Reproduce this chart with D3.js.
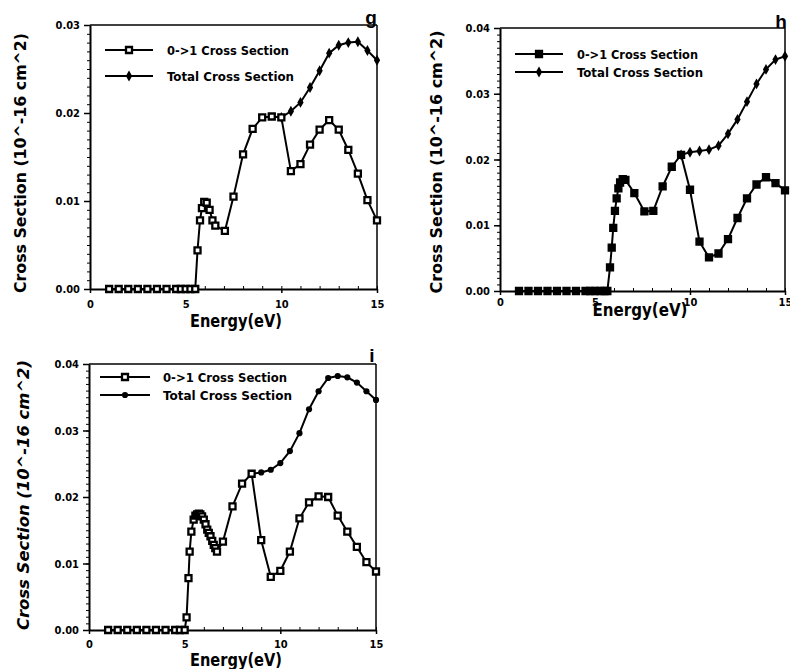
<!DOCTYPE html>
<html>
<head>
  <meta charset="utf-8">
  <title>Cross sections g, h, i</title>
  <script src="https://d3js.org/d3.v7.min.js"></script>
  <style>
    body { margin: 0; background: #fff; }
    svg text { font-family: "Liberation Sans Narrow", "DejaVu Sans Condensed", "Liberation Sans", sans-serif; font-weight: bold; fill: #000; }
  </style>
</head>
<body>
  <svg id="chart" width="790" height="669"></svg>

  <script>
    // Panel g
    const energy01G = [1, 1.5, 2, 2.5, 3, 3.5, 4, 4.5, 4.75, 5, 5.25, 5.5, 5.62, 5.75, 5.85, 5.97, 6.1, 6.25, 6.4, 6.55, 7.05, 7.5, 8, 8.5, 9, 9.5, 10, 10.5, 11, 11.5, 12, 12.5, 13, 13.5, 14, 14.5, 15];
    const sigma01G  = [0, 0, 0, 0, 0, 0, 0, 0, 0, 0, 0, 0, 0.0044, 0.0078, 0.0092, 0.0099, 0.0098, 0.0090, 0.0078, 0.0072, 0.0066, 0.0105, 0.0153, 0.0182, 0.0195, 0.0196, 0.0195, 0.0134, 0.0142, 0.0164, 0.0181, 0.0192, 0.0181, 0.0158, 0.0131, 0.0101, 0.0078];
    const energyTotG = [10, 10.5, 11, 11.5, 12, 12.5, 13, 13.5, 14, 14.5, 15];
    const sigmaTotG  = [0.0195, 0.0202, 0.0212, 0.0229, 0.0248, 0.0268, 0.0277, 0.0280, 0.0281, 0.0271, 0.0260];

    // Panel h
    const energy01H = [1, 1.5, 2, 2.5, 3, 3.5, 4, 4.5, 4.75, 5, 5.25, 5.5, 5.65, 5.79, 5.88, 5.96, 6.05, 6.14, 6.23, 6.32, 6.46, 6.6, 7.07, 7.6, 8.07, 8.56, 9.04, 9.53, 10, 10.5, 11, 11.5, 12, 12.5, 13, 13.5, 14, 14.5, 15];
    const sigma01H  = [0, 0, 0, 0, 0, 0, 0, 0, 0, 0, 0, 0, 0, 0.0036, 0.0066, 0.0096, 0.0122, 0.0141, 0.0156, 0.0165, 0.0170, 0.0169, 0.0149, 0.0121, 0.0122, 0.0159, 0.0189, 0.0207, 0.0154, 0.0075, 0.0051, 0.0057, 0.0079, 0.0111, 0.0141, 0.0162, 0.0173, 0.0164, 0.0153];
    const energyTotH = [9.53, 10, 10.5, 11, 11.5, 12, 12.5, 13, 13.5, 14, 14.5, 15];
    const sigmaTotH  = [0.0207, 0.0211, 0.0213, 0.0215, 0.0221, 0.0239, 0.0261, 0.0288, 0.0315, 0.0337, 0.0352, 0.0357];

    // Panel i
    const energy01I = [1, 1.5, 2, 2.5, 3, 3.5, 4, 4.5, 4.75, 5, 5.1, 5.2, 5.26, 5.35, 5.47, 5.56, 5.65, 5.74, 5.82, 5.91, 6, 6.09, 6.18, 6.26, 6.35, 6.44, 6.52, 6.6, 6.69, 7, 7.5, 8, 8.5, 9, 9.5, 10, 10.5, 11, 11.5, 12, 12.5, 13, 13.5, 14, 14.5, 15];
    const sigma01I  = [0, 0, 0, 0, 0, 0, 0, 0, 0, 0, 0.0019, 0.0078, 0.0118, 0.0148, 0.0166, 0.0172, 0.0174, 0.0175, 0.0174, 0.0171, 0.0166, 0.0159, 0.0151, 0.0146, 0.0141, 0.0134, 0.0128, 0.0123, 0.0118, 0.0133, 0.0186, 0.0220, 0.0235, 0.0135, 0.0080, 0.0089, 0.0118, 0.0168, 0.0192, 0.0201, 0.0200, 0.0172, 0.0148, 0.0125, 0.0102, 0.0088];
    const energyTotI = [8.5, 9, 9.5, 10, 10.5, 11, 11.5, 12, 12.5, 13, 13.5, 14, 14.5, 15];
    const sigmaTotI  = [0.0235, 0.0237, 0.0241, 0.0251, 0.0269, 0.0296, 0.0332, 0.0359, 0.0379, 0.0382, 0.0380, 0.0372, 0.0359, 0.0346];

    const xTicks = [0, 5, 10, 15];
    const legendLabels = ["0->1 Cross Section", "Total Cross Section"];
    const xTitle = "Energy(eV)";
    const yTitle = "Cross Section (10^-16 cm^2)";

    const zip = (a, b) => a.map((v, i) => [v, b[i]]);

    const panels = [
      { letter: "g", x0: 90, x1: 377, y0: 289, y1: 25, yMax: 0.03, tickPad: 7,
        s01: zip(energy01G, sigma01G), tot: zip(energyTotG, sigmaTotG),
        square: "open", totSym: d3.symbolDiamond,
        legend: { x0: 105, x1: 153, y: 50, dy: 26, tx: 167, tw: [122, 127] },
        yLab: { x: 20, y: 163, len: 260, italic: false },
        xLab: { x: 236, y: 327, len: 92 },
        letterPos: { x: 371, y: 24 } },
      { letter: "h", x0: 500, x1: 785, y0: 291, y1: 28, yMax: 0.04, tickPad: 3,
        s01: zip(energy01H, sigma01H), tot: zip(energyTotH, sigmaTotH),
        square: "filled", totSym: d3.symbolDiamond,
        legend: { x0: 515, x1: 563, y: 54, dy: 18, tx: 577, tw: [121, 126] },
        yLab: { x: 436, y: 162, len: 263, italic: false },
        xLab: { x: 640, y: 316, len: 95 },
        letterPos: { x: 781, y: 28 } },
      { letter: "i", x0: 89, x1: 376, y0: 630, y1: 364, yMax: 0.04, tickPad: 6,
        s01: zip(energy01I, sigma01I), tot: zip(energyTotI, sigmaTotI),
        square: "open", totSym: d3.symbolCircle,
        legend: { x0: 100, x1: 150, y: 377, dy: 18, tx: 163, tw: [124, 129] },
        yLab: { x: 23, y: 495, len: 270, italic: true },
        xLab: { x: 236, y: 666, len: 92 },
        letterPos: { x: 372, y: 362 } }
    ];

    const svg = d3.select("#chart");

    function drawPanel(p) {
      const g = svg.append("g");
      const x = d3.scaleLinear().domain([0, 15]).range([p.x0, p.x1]);
      const y = d3.scaleLinear().domain([0, p.yMax]).range([p.y0, p.y1]);

      // frame: top and right thinner
      g.append("line").attr("x1", p.x0).attr("x2", p.x1).attr("y1", p.y1).attr("y2", p.y1)
        .attr("stroke", "#000").attr("stroke-width", 1.3);
      g.append("line").attr("x1", p.x1).attr("x2", p.x1).attr("y1", p.y1).attr("y2", p.y0)
        .attr("stroke", "#000").attr("stroke-width", 1.5);

      // minor ticks
      const yMinor = d3.range(0, p.yMax + 1e-9, 0.001);
      g.append("g").attr("transform", `translate(${p.x0},0)`)
        .call(d3.axisLeft(y).tickValues(yMinor).tickSize(3).tickFormat(""))
        .call(a => a.select(".domain").remove());
      g.append("g").attr("transform", `translate(0,${p.y0})`)
        .call(d3.axisTop(x).tickValues(d3.range(0, 16)).tickSize(3).tickFormat(""))
        .call(a => a.select(".domain").remove());

      // major axes
      const yAx = g.append("g").attr("transform", `translate(${p.x0},0)`)
        .call(d3.axisLeft(y).tickValues(d3.range(0, p.yMax + 1e-9, 0.01)).tickSize(6).tickPadding(4).tickFormat(d3.format(".2f")).tickSizeOuter(0));
      const xAx = g.append("g").attr("transform", `translate(0,${p.y0})`)
        .call(d3.axisBottom(x).tickValues(xTicks).tickSize(4).tickPadding(p.tickPad).tickFormat(d3.format("d")).tickSizeOuter(0));
      [yAx, xAx].forEach(a => {
        a.attr("font-family", null).attr("font-size", 11);
        a.select(".domain").attr("stroke-width", 2);
        a.selectAll(".tick line").attr("stroke-width", 1.5);
      });
      g.selectAll(".tick line").attr("stroke", "#000");

      const line = d3.line().x(d => x(d[0])).y(d => y(d[1]));
      g.append("path").datum(p.tot).attr("d", line)
        .attr("fill", "none").attr("stroke", "#000").attr("stroke-width", 2);
      g.append("path").datum(p.s01).attr("d", line)
        .attr("fill", "none").attr("stroke", "#000").attr("stroke-width", 2);

      const totMark = d3.symbol().type(p.totSym).size(p.totSym === d3.symbolCircle ? 30 : 34);
      const sqMark = d3.symbol().type(d3.symbolSquare).size(36);

      g.selectAll(".tot").data(p.tot).join("path").attr("class", "tot")
        .attr("transform", d => `translate(${x(d[0])},${y(d[1])})`)
        .attr("d", totMark).attr("fill", "#000");
      g.selectAll(".sq").data(p.s01).join("path").attr("class", "sq")
        .attr("transform", d => `translate(${x(d[0])},${y(d[1])})`)
        .attr("d", sqMark)
        .attr("fill", p.square === "open" ? "#fff" : "#000")
        .attr("stroke", "#000").attr("stroke-width", 2.3);

      // legend
      const L = p.legend;
      const mid = (L.x0 + L.x1) / 2;
      [0, 1].forEach(k => {
        const ly = L.y + k * L.dy;
        g.append("line").attr("x1", L.x0).attr("x2", L.x1).attr("y1", ly).attr("y2", ly)
          .attr("stroke", "#000").attr("stroke-width", 2);
        const m = g.append("path").attr("transform", `translate(${mid},${ly})`);
        if (k === 0) {
          m.attr("d", sqMark).attr("fill", p.square === "open" ? "#fff" : "#000")
            .attr("stroke", "#000").attr("stroke-width", 2.3);
        } else {
          m.attr("d", totMark).attr("fill", "#000");
        }
        g.append("text").attr("x", L.tx).attr("y", ly + 4.5)
          .attr("font-size", 12.5)
          .attr("textLength", L.tw[k]).attr("lengthAdjust", "spacingAndGlyphs")
          .text(legendLabels[k]);
      });

      // titles
      g.append("text").attr("x", p.xLab.x).attr("y", p.xLab.y)
        .attr("text-anchor", "middle").attr("font-size", 18)
        .attr("textLength", p.xLab.len).attr("lengthAdjust", "spacingAndGlyphs")
        .text(xTitle);
      g.append("text")
        .attr("transform", `translate(${p.yLab.x},${p.yLab.y}) rotate(-90)`)
        .attr("text-anchor", "middle").attr("dominant-baseline", "central")
        .attr("font-size", 16)
        .attr("font-style", p.yLab.italic ? "italic" : "normal")
        .attr("textLength", p.yLab.len).attr("lengthAdjust", "spacingAndGlyphs")
        .text(yTitle);
      g.append("text").attr("x", p.letterPos.x).attr("y", p.letterPos.y)
        .attr("text-anchor", "middle").attr("font-size", 19)
        .style("font-family", "'Liberation Sans', Arial, sans-serif")
        .text(p.letter);
    }

    panels.forEach(drawPanel);
  </script>
</body>
</html>
